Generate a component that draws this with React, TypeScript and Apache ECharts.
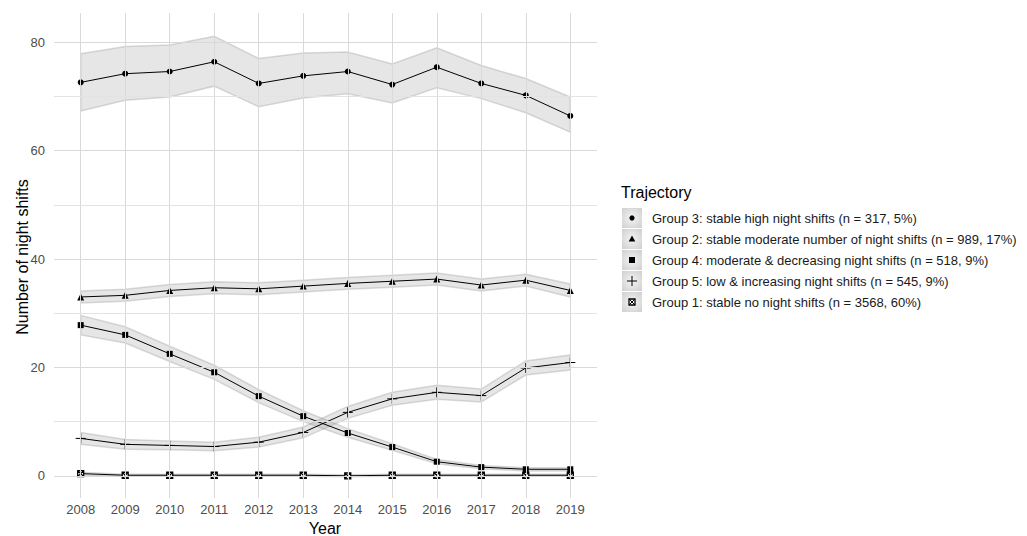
import React, { useEffect, useRef } from "react";
import * as echarts from "echarts";

const years = [2008, 2009, 2010, 2011, 2012, 2013, 2014, 2015, 2016, 2017, 2018, 2019];
const yTickLabels = [0, 20, 40, 60, 80];
const yMajorGrid = [0, 20, 40, 60, 80];
const yMinorGrid = [10, 30, 50, 70];

// Group 3: stable high
const g3 = [72.6, 74.2, 74.6, 76.4, 72.4, 73.8, 74.6, 72.2, 75.4, 72.4, 70.2, 66.4];
const g3Lo = [67.3, 69.3, 69.9, 71.9, 68.1, 69.7, 70.5, 68.8, 71.6, 69.6, 67.0, 63.4];
const g3Hi = [77.9, 79.2, 79.5, 81.1, 77.0, 78.0, 78.2, 76.0, 79.0, 75.7, 73.3, 69.9];
// Group 2: stable moderate
const g2 = [33.0, 33.3, 34.2, 34.7, 34.5, 35.0, 35.5, 35.9, 36.3, 35.2, 36.1, 34.2];
const g2Lo = [31.9, 32.2, 33.1, 33.6, 33.4, 33.9, 34.4, 34.8, 35.2, 34.1, 35.0, 33.0];
const g2Hi = [34.1, 34.4, 35.3, 35.8, 35.6, 36.1, 36.6, 37.0, 37.4, 36.3, 37.2, 35.4];
// Group 4: moderate & decreasing
const g4 = [27.8, 26.0, 22.5, 19.1, 14.7, 11.0, 7.9, 5.3, 2.6, 1.6, 1.2, 1.2];
const g4Lo = [26.0, 24.5, 21.1, 17.8, 13.5, 10.0, 7.1, 4.7, 2.2, 1.3, 0.9, 0.9];
const g4Hi = [29.6, 27.5, 23.9, 20.4, 15.9, 12.0, 8.7, 5.9, 3.0, 1.9, 1.5, 1.5];
// Group 5: low & increasing
const g5 = [6.9, 5.8, 5.6, 5.4, 6.2, 8.0, 11.7, 14.2, 15.4, 14.8, 19.9, 20.9];
const g5Lo = [5.8, 4.9, 4.8, 4.6, 5.3, 7.0, 10.6, 13.0, 14.1, 13.6, 18.6, 19.5];
const g5Hi = [8.0, 6.7, 6.4, 6.2, 7.1, 9.0, 12.8, 15.4, 16.7, 16.0, 21.2, 22.3];
// Group 1: stable no night shifts
const g1 = [0.4, 0.1, 0.1, 0.1, 0.1, 0.1, 0.0, 0.1, 0.1, 0.1, 0.1, 0.1];
const g1Lo = [0.15, -0.1, -0.1, -0.1, -0.1, -0.1, -0.2, -0.1, -0.1, -0.1, -0.1, -0.1];
const g1Hi = [0.65, 0.3, 0.3, 0.3, 0.3, 0.3, 0.2, 0.3, 0.3, 0.3, 0.3, 0.3];

const legendLabels = [
  "Group 3: stable high night shifts (n = 317, 5%)",
  "Group 2: stable moderate number of night shifts (n = 989, 17%)",
  "Group 4: moderate & decreasing night shifts (n = 518, 9%)",
  "Group 5: low & increasing night shifts (n = 545, 9%)",
  "Group 1: stable no night shifts (n = 3568, 60%)",
];

const FONT = "Liberation Sans, Arial, sans-serif";

const PLUS = "path://M5,0L5,10M0,5L10,5";
const SQX = "path://M0,0L10,0L10,10L0,10Z M0,0L10,10 M10,0L0,10";

const groups = [
  { key: "g3", v: g3, lo: g3Lo, hi: g3Hi, symbol: "circle", size: 6, stroke: false },
  { key: "g2", v: g2, lo: g2Lo, hi: g2Hi, symbol: "triangle", size: 7, stroke: false },
  { key: "g4", v: g4, lo: g4Lo, hi: g4Hi, symbol: "rect", size: 6, stroke: false },
  { key: "g5", v: g5, lo: g5Lo, hi: g5Hi, symbol: PLUS, size: 10, stroke: true },
  { key: "g1", v: g1, lo: g1Lo, hi: g1Hi, symbol: SQX, size: 6, stroke: true },
];

export default function App() {
  const ref = useRef<HTMLDivElement>(null);
  useEffect(() => {
    if (!ref.current) return;
    const chart = echarts.init(ref.current, undefined, { renderer: "svg" });

    const series: any[] = [];
    // gridlines via markLine
    series.push({
      type: "line",
      data: [],
      z: 0,
      silent: true,
      markLine: {
        silent: true,
        symbol: "none",
        animation: false,
        label: { show: false },
        lineStyle: { color: "#d9d9d9", width: 1, type: "solid" },
        data: [
          ...yMajorGrid.map((v) => ({ yAxis: v })),
          ...years.map((v) => ({ xAxis: v })),
          ...yMinorGrid.map((v) => ({ yAxis: v, lineStyle: { color: "#e3e3e3", width: 1, type: "solid" } })),
        ],
      },
    });
    // ribbons (custom polygons through axis scales)
    groups.forEach((g) => {
      series.push({
        type: "custom",
        silent: true,
        z: 1,
        data: years.map((y, i) => [y, g.lo[i], g.hi[i]]),
        encode: { x: 0, y: [1, 2] },
        renderItem: (params: any, api: any) => {
          if (params.dataIndex !== 0) return null;
          const top = years.map((y, i) => api.coord([y, g.hi[i]]));
          const bot = years.map((y, i) => api.coord([y, g.lo[i]])).reverse();
          return {
            type: "polygon",
            shape: { points: top.concat(bot) },
            style: { fill: "rgba(140,140,140,0.22)", stroke: "rgba(140,140,140,0.3)", lineWidth: 1.5 },
          };
        },
      });
    });
    // lines and points
    groups.forEach((g) => {
      series.push({
        type: "line",
        data: years.map((y, i) => [y, g.v[i]]),
        symbol: g.symbol,
        symbolSize: g.size,
        showAllSymbol: true,
        lineStyle: { color: "#000", width: 1 },
        itemStyle: g.stroke
          ? { color: g.key === "g1" ? "#ffffff" : "#000", borderColor: "#000", borderWidth: g.key === "g1" ? 1.3 : 1 }
          : { color: "#000", borderColor: "#000", borderWidth: 0 },
        z: 3,
      });
    });

    const rowY = (i: number) => 218 + i * 21;
    const kx = 632;
    const graphics: any[] = [
      {
        type: "text",
        x: 22,
        y: 257,
        rotation: Math.PI / 2,
        style: { text: "Number of night shifts", font: `16px ${FONT}`, fill: "#000", align: "center", verticalAlign: "middle" },
      },
      {
        type: "text",
        x: 325,
        y: 528,
        style: { text: "Year", font: `16px ${FONT}`, fill: "#000", align: "center", verticalAlign: "middle" },
      },
      {
        type: "text",
        x: 621,
        y: 192,
        style: { text: "Trajectory", font: `16px ${FONT}`, fill: "#000", align: "left", verticalAlign: "middle" },
      },
    ];
    legendLabels.forEach((lab, i) => {
      const cy = rowY(i);
      graphics.push({
        type: "rect",
        shape: { x: kx - 10, y: cy - 10, width: 20, height: 20 },
        style: {
          fill: new echarts.graphic.RadialGradient(0.5, 0.5, 0.7, [
            { offset: 0, color: "#f4f4f4" },
            { offset: 1, color: "#cfcfcf" },
          ]),
        },
      });
      graphics.push({
        type: "text",
        x: 652,
        y: cy,
        style: { text: lab, font: `13px ${FONT}`, fill: "#1a1a1a", align: "left", verticalAlign: "middle" },
      });
    });
    // legend symbols
    graphics.push({ type: "circle", shape: { cx: kx, cy: rowY(0), r: 2.6 }, style: { fill: "#000" } });
    graphics.push({
      type: "polygon",
      shape: { points: [[kx, rowY(1) - 3.5], [kx + 3.3, rowY(1) + 2.5], [kx - 3.3, rowY(1) + 2.5]] },
      style: { fill: "#000" },
    });
    graphics.push({ type: "rect", shape: { x: kx - 3, y: rowY(2) - 3, width: 6, height: 6 }, style: { fill: "#000" } });
    graphics.push({ type: "line", shape: { x1: kx - 5, y1: rowY(3), x2: kx + 5, y2: rowY(3) }, style: { stroke: "#000", lineWidth: 1 } });
    graphics.push({ type: "line", shape: { x1: kx, y1: rowY(3) - 5, x2: kx, y2: rowY(3) + 5 }, style: { stroke: "#000", lineWidth: 1 } });
    graphics.push({ type: "rect", shape: { x: kx - 3, y: rowY(4) - 3, width: 6, height: 6 }, style: { fill: "#fff", stroke: "#000", lineWidth: 1.3 } });
    graphics.push({ type: "line", shape: { x1: kx - 3, y1: rowY(4) - 3, x2: kx + 3, y2: rowY(4) + 3 }, style: { stroke: "#000", lineWidth: 1 } });
    graphics.push({ type: "line", shape: { x1: kx + 3, y1: rowY(4) - 3, x2: kx - 3, y2: rowY(4) + 3 }, style: { stroke: "#000", lineWidth: 1 } });

    chart.setOption({
      animation: false,
      backgroundColor: "#ffffff",
      grid: { left: 54, right: 430, top: 13, bottom: 38, containLabel: false },
      xAxis: {
        type: "value",
        min: 2007.4,
        max: 2019.6,
        axisLine: { show: false },
        axisTick: { show: false },
        splitLine: { show: false },
        axisLabel: {
          customValues: years,
          formatter: (v: number) => String(v),
          color: "#4d4d4d",
          fontSize: 13,
          fontFamily: FONT,
          margin: 5,
        },
      },
      yAxis: {
        type: "value",
        min: -4.1,
        max: 85.4,
        axisLine: { show: false },
        axisTick: { show: false },
        splitLine: { show: false },
        axisLabel: {
          customValues: yTickLabels,
          formatter: (v: number) => String(v),
          color: "#4d4d4d",
          fontSize: 13,
          fontFamily: FONT,
          margin: 9,
        },
      },
      series,
      graphic: graphics,
    });
    return () => chart.dispose();
  }, []);
  return <div ref={ref} style={{ position: "fixed", left: 0, top: 0, width: 1027, height: 536 }} />;
}
